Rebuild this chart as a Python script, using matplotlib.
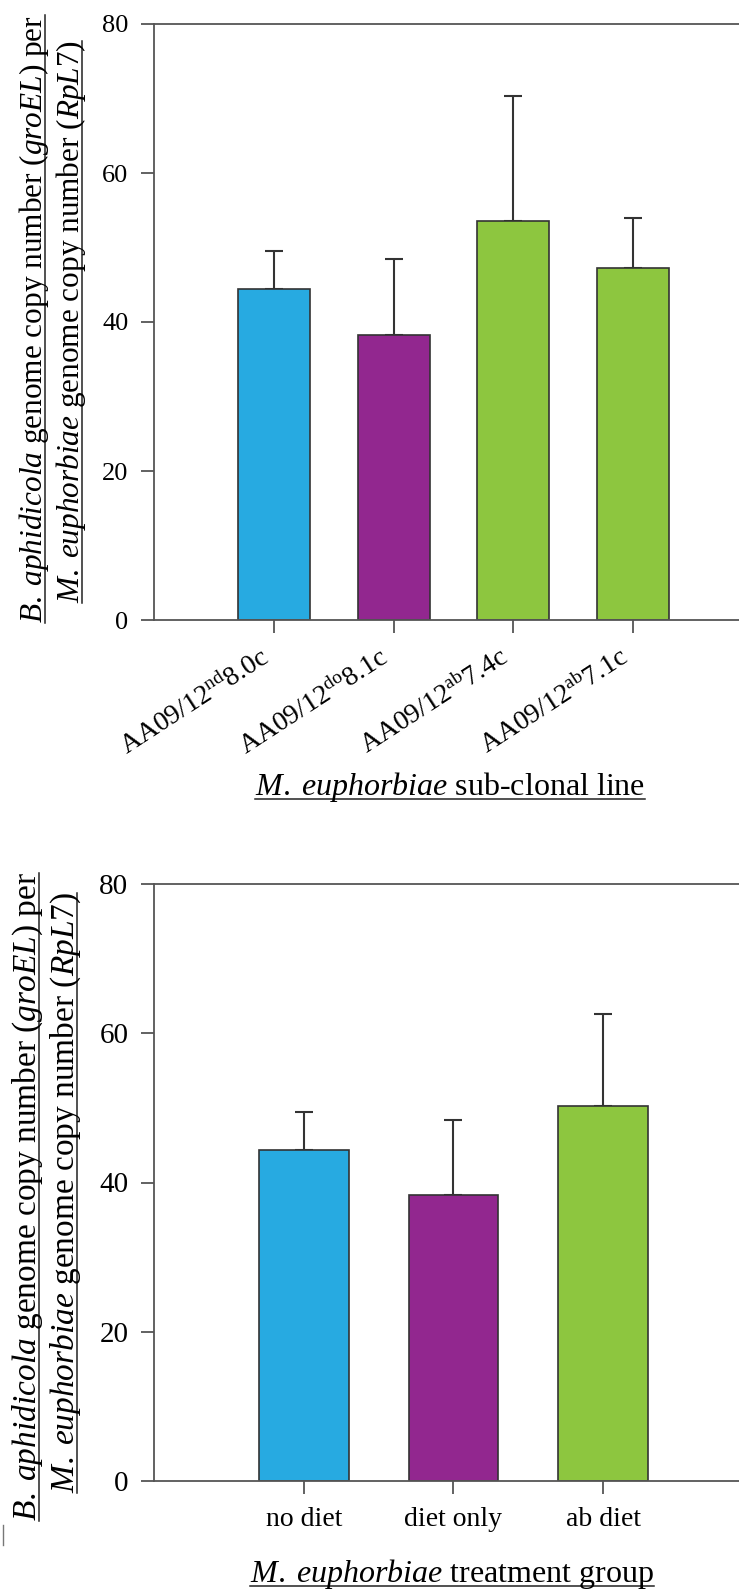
import numpy as np
import matplotlib
matplotlib.use('Agg')
import matplotlib.pyplot as plt
from matplotlib.lines import Line2D

plt.rcParams['font.family'] = ['Liberation Serif', 'DejaVu Serif']
plt.rcParams['mathtext.fontset'] = 'custom'
plt.rcParams['mathtext.rm'] = 'Liberation Serif'
plt.rcParams['mathtext.it'] = 'Liberation Serif:italic'

# Panel A: sub-clonal lines
lines = ['AA09/12$^{\\mathrm{nd}}$8.0c', 'AA09/12$^{\\mathrm{do}}$8.1c',
         'AA09/12$^{\\mathrm{ab}}$7.4c', 'AA09/12$^{\\mathrm{ab}}$7.1c']
lines_mean = [44.4, 38.3, 53.6, 47.2]
lines_err = [5.1, 10.1, 16.7, 6.8]
lines_colors = ['#27aae1', '#92278f', '#8dc63f', '#8dc63f']

# Panel B: treatment groups
groups = ['no diet', 'diet only', 'ab diet']
groups_mean = [44.4, 38.3, 50.3]
groups_err = [5.1, 10.05, 12.3]
groups_colors = ['#27aae1', '#92278f', '#8dc63f']

yticks = [0, 20, 40, 60, 80]
W, H = 739, 1593
spine_c = '#555555'

fig = plt.figure(figsize=(W / 100, H / 100), dpi=100)


def px_axes(left, top, right, bottom):
    return fig.add_axes([left / W, 1 - bottom / H, (right - left) / W, (bottom - top) / H])


def style(ax, tick_size):
    ax.spines['right'].set_visible(False)
    for s in ['left', 'top', 'bottom']:
        ax.spines[s].set_color(spine_c)
        ax.spines[s].set_linewidth(1.3)
    ax.set_ylim(0, 80)
    ax.set_yticks(yticks)
    ax.tick_params(axis='both', direction='out', length=9.5, width=1.3, color=spine_c)
    ax.tick_params(axis='y', labelsize=tick_size, pad=9)


def bars(ax, names, means, errs, colors, xright):
    x = np.arange(len(names))
    ax.bar(x, means, width=0.6, color=colors, edgecolor='#333333', linewidth=1.2, zorder=2)
    ax.errorbar(x, means, yerr=[np.zeros(len(errs)), errs], fmt='none', ecolor='#333333',
                elinewidth=1.5, capsize=6.5, capthick=1.5, zorder=1)
    ax.set_xlim(-1, xright)
    ax.set_xticks(x)


ax1 = px_axes(154, 24, W + 2, 620)
bars(ax1, lines, lines_mean, lines_err, lines_colors, 3.9)
style(ax1, 19)
ax1.set_xticklabels(lines, rotation=33, ha='right', va='top', fontsize=20)
ax1.tick_params(axis='x', pad=8)

ax2 = px_axes(154, 884, W + 2, 1481)
bars(ax2, groups, groups_mean, groups_err, groups_colors, 2.92)
style(ax2, 21)
ax2.set_xticklabels(groups, fontsize=20)
ax2.tick_params(axis='x', pad=9)

# labels: (text, x px, y px, rotation, size)
ylab1 = '$\\mathit{B.\\;aphidicola}$ genome copy number ($\\mathit{groEL}$) per'
ylab2 = '$\\mathit{M.\\;euphorbiae}$ genome copy number ($\\mathit{RpL7}$)'
labels = [
    (ylab1, 42, 319, 90, 22.5),
    (ylab2, 79, 322, 90, 22.5),
    (ylab1, 36, 1197, 90, 24),
    (ylab2, 74, 1193, 90, 24),
    ('$\\mathit{M.\\;euphorbiae}$ sub-clonal line', 450, 795, 0, 23),
    ('$\\mathit{M.\\;euphorbiae}$ treatment group', 452, 1582, 0, 23),
]
texts = []
for s, xp, yp, rot, size in labels:
    t = fig.text(xp / W, 1 - yp / H, s, rotation=rot, rotation_mode='anchor',
                 ha='center', va='baseline', fontsize=size)
    texts.append((t, xp, yp, rot))

fig.canvas.draw()
r = fig.canvas.get_renderer()
for t, xp, yp, rot in texts:
    bb = t.get_window_extent(r)
    if rot == 90:
        ux = (xp + 3) / W
        fig.add_artist(Line2D([ux, ux], [bb.y0 / H, bb.y1 / H], color='#222222', lw=1.1))
    else:
        uy = 1 - (yp + 4) / H
        fig.add_artist(Line2D([bb.x0 / W, bb.x1 / W], [uy, uy], color='#222222', lw=1.1))

# stray mark at lower left
fig.add_artist(Line2D([3 / W, 3 / W], [1 - 1545 / H, 1 - 1525 / H], color='#777777', lw=1.0))

fig.savefig('out.png', dpi=100)
